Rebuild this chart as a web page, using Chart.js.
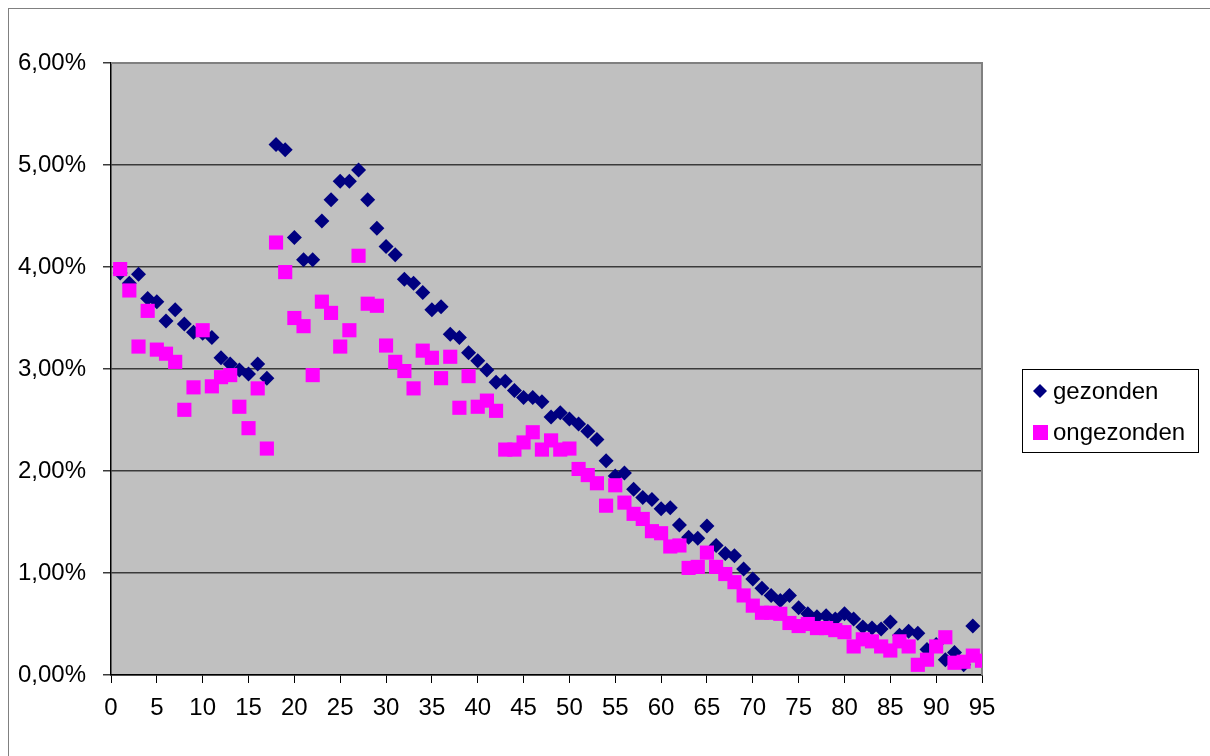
<!DOCTYPE html>
<html>
<head>
<meta charset="utf-8">
<script src="https://cdn.jsdelivr.net/npm/chart.js@4/dist/chart.umd.min.js"></script>
<style>
  body { margin: 0; background: #fff; }
  #wrap { width: 1210px; height: 756px; }
</style>
</head>
<body>
<div id="wrap"><canvas id="myChart" width="1210" height="756"></canvas></div>
<script>
// leeftijd (x) en percentages per leeftijd
const leeftijd = [1,2,3,4,5,6,7,8,9,10,11,12,13,14,15,16,17,18,19,20,21,22,23,24,25,26,27,28,29,30,
  31,32,33,34,35,36,37,38,39,40,41,42,43,44,45,46,47,48,49,50,51,52,53,54,55,56,57,58,59,60,
  61,62,63,64,65,66,67,68,69,70,71,72,73,74,75,76,77,78,79,80,81,82,83,84,85,86,87,88,89,90,
  91,92,93,94,95];

const gezonden = [3.94,3.84,3.93,3.69,3.66,3.47,3.58,3.44,3.36,3.35,3.31,3.11,3.05,2.99,2.95,3.05,2.91,5.20,5.15,4.29,
  4.07,4.07,4.45,4.66,4.84,4.84,4.95,4.66,4.38,4.20,4.12,3.88,3.84,3.75,3.58,3.61,3.34,3.31,3.16,3.08,
  2.99,2.87,2.88,2.79,2.72,2.72,2.68,2.53,2.57,2.51,2.46,2.39,2.31,2.10,1.95,1.98,1.82,1.74,1.72,1.63,
  1.64,1.47,1.35,1.34,1.46,1.27,1.19,1.17,1.04,0.94,0.85,0.78,0.73,0.78,0.66,0.60,0.57,0.58,0.55,0.60,
  0.55,0.47,0.46,0.45,0.52,0.39,0.43,0.41,0.25,0.30,0.15,0.22,0.10,0.48];

const ongezonden = [3.98,3.77,3.22,3.57,3.19,3.15,3.07,2.60,2.82,3.38,2.83,2.92,2.94,2.63,2.42,2.81,2.22,4.24,3.95,3.50,
  3.42,2.94,3.66,3.55,3.22,3.38,4.11,3.64,3.62,3.23,3.07,2.98,2.81,3.18,3.11,2.91,3.12,2.62,2.93,2.63,
  2.69,2.59,2.21,2.21,2.28,2.38,2.21,2.30,2.21,2.22,2.02,1.96,1.88,1.66,1.86,1.69,1.58,1.53,1.41,1.39,
  1.26,1.27,1.05,1.06,1.20,1.06,0.99,0.91,0.78,0.68,0.61,0.61,0.60,0.51,0.48,0.50,0.46,0.46,0.44,0.42,
  0.28,0.35,0.33,0.28,0.24,0.33,0.28,0.10,0.15,0.28,0.37,0.12,0.13,0.19,0.14];

const reeksNamen = ['gezonden', 'ongezonden'];
const reeksKleuren = ['#000080', '#ff00ff'];

const FONT = 'Liberation Sans, Arial, sans-serif';

function punten(ys) {
    return ys.map((y, i) => ({ x: leeftijd[i], y: y }));
}

// achtergrond, plotvlak en kader
const excelLook = {
    id: 'excelLook',
    beforeDraw(chart) {
        const { ctx, chartArea: a } = chart;
        ctx.save();
        ctx.fillStyle = '#fff';
        ctx.fillRect(0, 0, chart.width, chart.height);
        ctx.strokeStyle = '#808080';
        ctx.lineWidth = 1;
        ctx.strokeRect(8.5, 8.5, chart.width + 10, chart.height + 10);
        ctx.fillStyle = '#c0c0c0';
        ctx.fillRect(a.left, a.top, a.right - a.left, a.bottom - a.top);
        ctx.restore();
    },
    beforeDatasetsDraw(chart) {
        const { ctx, chartArea: a } = chart;
        ctx.save();
        ctx.strokeStyle = '#808080';
        ctx.lineWidth = 2;
        ctx.beginPath();
        ctx.moveTo(a.left, a.top);
        ctx.lineTo(a.right, a.top);
        ctx.lineTo(a.right, a.bottom);
        ctx.stroke();
        ctx.restore();
    },
    afterDraw(chart) {
        const ctx = chart.ctx;
        // legenda
        const bx = 1022.5, by = 369.5, bw = 176, bh = 83;
        ctx.save();
        ctx.fillStyle = '#fff';
        ctx.fillRect(bx, by, bw, bh);
        ctx.strokeStyle = '#000';
        ctx.lineWidth = 1;
        ctx.strokeRect(bx, by, bw, bh);
        ctx.font = '24px ' + FONT;
        ctx.textBaseline = 'middle';
        ctx.fillStyle = '#000';
        const rows = [391, 432];
        reeksNamen.forEach((naam, i) => {
            const cy = rows[i];
            ctx.fillStyle = reeksKleuren[i];
            if (i === 0) {
                ctx.beginPath();
                ctx.moveTo(1040, cy - 7);
                ctx.lineTo(1047, cy);
                ctx.lineTo(1040, cy + 7);
                ctx.lineTo(1033, cy);
                ctx.closePath();
                ctx.fill();
            } else {
                ctx.fillRect(1033, cy - 7, 15, 15);
            }
            ctx.fillStyle = '#000';
            ctx.fillText(naam, 1053, cy + 1);
        });
        ctx.restore();
    }
};

const ctx = document.getElementById('myChart').getContext('2d');

const data = {
    datasets: [
        {
            label: reeksNamen[0],
            data: punten(gezonden),
            pointStyle: 'rectRot',
            pointRadius: 7.5,
            backgroundColor: reeksKleuren[0],
            borderColor: reeksKleuren[0],
            borderWidth: 0,
            order: 2
        },
        {
            label: reeksNamen[1],
            data: punten(ongezonden),
            pointStyle: 'rect',
            pointRadius: 10,
            backgroundColor: reeksKleuren[1],
            borderColor: reeksKleuren[1],
            borderWidth: 0,
            order: 1
        }
    ]
};

const config = {
    type: 'scatter',
    data: data,
    plugins: [excelLook],
    options: {
        responsive: false,
        animation: false,
        layout: { padding: { top: 63, right: 228, left: 0, bottom: 0 } },
        plugins: {
            legend: { display: false },
            tooltip: { enabled: false }
        },
        scales: {
            x: {
                type: 'linear',
                min: 0,
                max: 95,
                afterFit: (s) => { s.height = 81; },
                ticks: {
                    stepSize: 5,
                    color: '#000',
                    font: { family: FONT, size: 24 },
                    padding: 11,
                    maxRotation: 0
                },
                grid: {
                    drawOnChartArea: false,
                    drawTicks: true,
                    tickLength: 8,
                    color: '#000'
                },
                border: { color: '#000', width: 1.5 }
            },
            y: {
                min: 0,
                max: 6,
                afterFit: (s) => { s.width = 111; },
                ticks: {
                    stepSize: 1,
                    color: '#000',
                    font: { family: FONT, size: 24 },
                    padding: 17,
                    callback: (v) => v.toFixed(2).replace('.', ',') + '%'
                },
                grid: {
                    color: '#3a3a3a',
                    lineWidth: 1.5,
                    tickLength: 8
                },
                border: { color: '#000', width: 1.5 }
            }
        }
    }
};

const myChart = new Chart(ctx, config);
</script>
</body>
</html>
